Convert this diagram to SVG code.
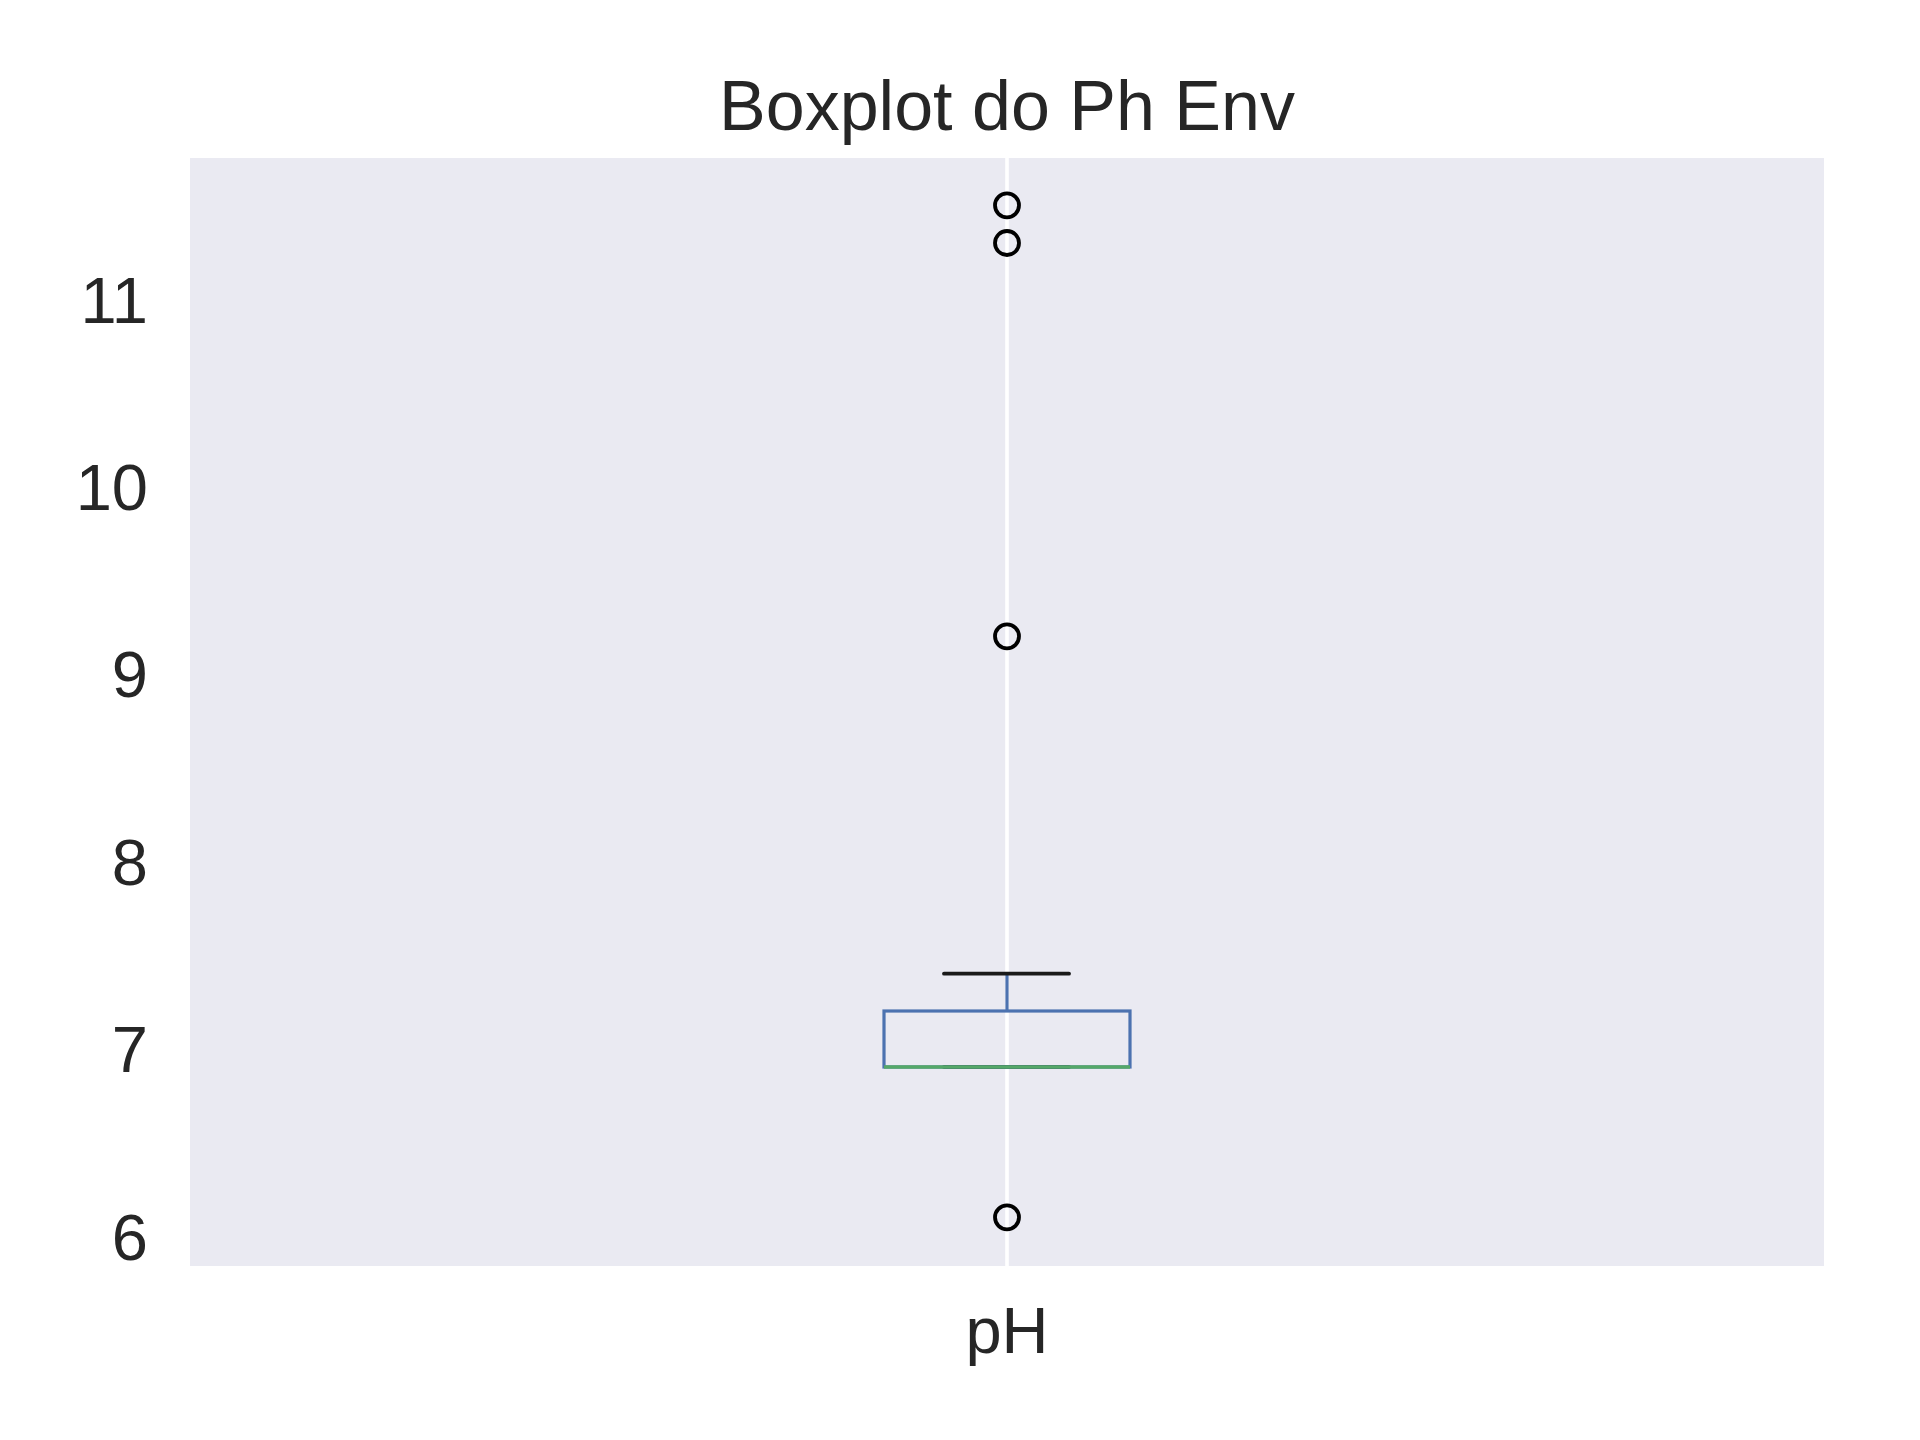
<svg xmlns="http://www.w3.org/2000/svg" width="1920" height="1440" viewBox="0 0 1920 1440">
<style>
text{font-family:"Liberation Sans",Arial,sans-serif;fill:#262626}
.tick{font-size:65px;text-anchor:end}
.box{fill:none;stroke:#4c72b0;stroke-width:3.2}
.cap{stroke:#1a1a1a;stroke-width:3.8;stroke-linecap:round}
.med{stroke:#55a868;stroke-width:3.4}
.flier{fill:none;stroke:#000;stroke-width:3.8}
</style>
<rect x="0" y="0" width="1920" height="1440" fill="#ffffff"/>
<g id="axes">
<rect x="190" y="158" width="1634" height="1108" fill="#eaeaf2"/>
<line x1="1007" y1="158" x2="1007" y2="1266" stroke="#ffffff" stroke-width="3.6"/>
</g>
<text id="title" x="1007" y="130" font-size="70" text-anchor="middle">Boxplot do Ph Env</text>
<g id="yticks">
<text class="tick" x="148" y="1259.5">6</text>
<text class="tick" x="148" y="1072">7</text>
<text class="tick" x="148" y="884.5">8</text>
<text class="tick" x="148" y="697">9</text>
<text class="tick" x="148" y="510">10</text>
<text class="tick" x="148" y="322.5">11</text>
</g>
<text id="xtick" x="1007" y="1353" font-size="65" text-anchor="middle">pH</text>
<g id="boxplot">
<line class="box" x1="1007" y1="1011" x2="1007" y2="973.7"/>
<line class="cap" x1="944" y1="973.7" x2="1069" y2="973.7"/>
<line class="cap" x1="944" y1="1067" x2="1069" y2="1067"/>
<rect class="box" x="884" y="1011" width="246" height="56"/>
<line class="med" x1="884" y1="1067" x2="1130" y2="1067"/>
</g>
<g id="fliers">
<circle class="flier" cx="1007" cy="205.3" r="12"/>
<circle class="flier" cx="1007" cy="243" r="12"/>
<circle class="flier" cx="1007" cy="636.3" r="12"/>
<circle class="flier" cx="1007" cy="1217.3" r="12"/>
</g>
</svg>
